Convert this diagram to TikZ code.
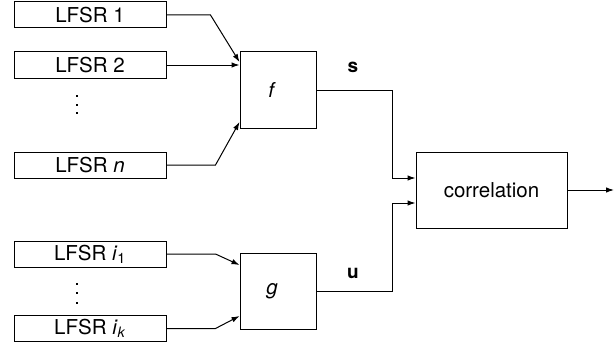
\documentclass[tikz,border=0pt]{standalone}
\usepackage{fontspec}
\setmainfont{TeX Gyre Heros}
\usetikzlibrary{arrows.meta,calc}
\begin{document}
\begin{tikzpicture}[x=1pt,y=-1pt,
  every node/.style={font=\fontsize{20.5}{24}\selectfont, inner sep=0pt},
  lfsr/.style={draw, line width=1pt, minimum width=152pt, minimum height=26pt},
  fbox/.style={draw, line width=1pt, minimum width=76pt, minimum height=76pt},
  conn/.style={line width=1pt, -{Latex[length=8pt,width=5.5pt]}},
  lbl/.style={font=\fontsize{19}{22}\selectfont\bfseries},
  dotmark/.style={fill=black}]
\useasboundingbox (0,0) rectangle (615,345);
\node[lfsr] (l1) at (90,15) {LFSR 1};
\node[lfsr] (l2) at (90,65) {LFSR 2};
\node[lfsr] (ln) at (90,165) {LFSR \textit{n}};
\node[lfsr] (li1) at (90,254) {LFSR \textit{i}\textsubscript{1}};
\node[lfsr] (lik) at (90,328.5) {LFSR \textit{i}\textsubscript{\textit{k}}};
\foreach \yy in {96,105,113,284,293,303}
  \fill[dotmark] (76.3,\yy-1) rectangle (78.3,\yy+1);
\node[fbox] (f) at (278,90) {\textit{f}\hspace*{12pt}};
\node[fbox] (g) at (278,291) {\textit{g}\hspace*{12pt}};
\node[draw, line width=1pt, minimum width=151pt, minimum height=76pt] (c) at (491.5,190) {correlation};
\node[lbl] (s) at (353,67) {s};
\node[lbl] (u) at (353,273) {u};
\coordinate (out) at (614,190);
\draw[conn] (l1.east) -- ++(44,0) -- ($(f.west)+(0,-28)$);
\draw[conn] (l2.east) -- (l2.east -| f.west);
\draw[conn] (ln.east) -- ++(49,0) -- ($(f.west)+(0,32)$);
\draw[conn] (li1.east) -- ++(49,0) -- ($(g.west)+(0,-26)$);
\draw[conn] (lik.east) -- ++(49,0) -- ($(g.west)+(0,25)$);
\draw[conn] (f.east) -- ++(76,0) |- ($(c.west)+(0,-12)$);
\draw[conn] (g.east) -- ++(76,0) |- ($(c.west)+(0,13)$);
\draw[conn] (c.east) -- (out);
\end{tikzpicture}
\end{document}
